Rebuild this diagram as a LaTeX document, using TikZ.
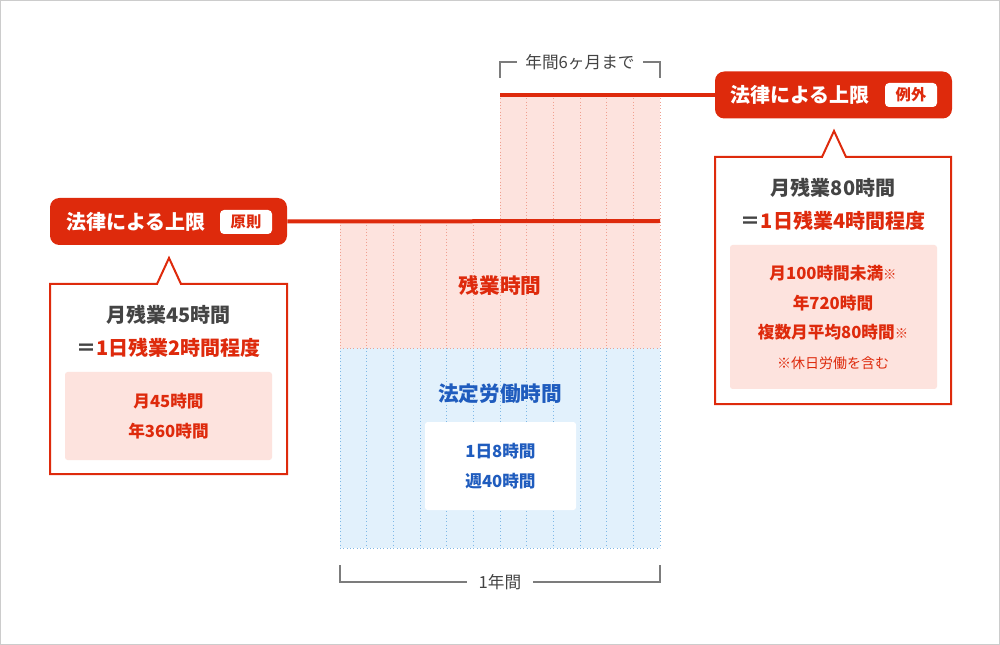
\documentclass[tikz,border=0pt]{standalone}
\usepackage{fontspec}
\setmainfont{Noto Sans CJK JP}
\begin{document}
\begin{tikzpicture}[x=0.75pt,y=-0.75pt,
  red/.style={},
  txt/.style={inner sep=0pt,align=center},
  callout/.style={draw=lred,line width=1.5pt,fill=white},
  pinkbox/.style={fill=lpink,rounded corners=2pt,draw=none},
  grid/.style={draw=#1,dotted,line width=0.5pt}]
\definecolor{lred}{HTML}{DE2A0C}
\definecolor{lpink}{HTML}{FDE3DE}
\definecolor{lblue}{HTML}{E2F1FC}
\definecolor{dblue}{HTML}{1F5CBE}
\definecolor{dgray}{HTML}{444444}
\definecolor{pgrid}{HTML}{F0A090}
\definecolor{bgrid}{HTML}{7FB8E6}
\useasboundingbox (0,0) rectangle (1000,645);
\draw[draw=gray!40,line width=0.8pt] (0.5,0.5) rectangle (999.5,644.5);
% chart
\fill[lblue] (340,348) rectangle (660,548);
\fill[lpink] (340,222) rectangle (660,348);
\fill[lpink] (500,95) rectangle (660,222);
\foreach \i in {0,...,12}{
  \pgfmathsetmacro\xx{340+\i*320/12}
  \draw[grid=bgrid] (\xx,348) -- (\xx,548);
  \draw[grid=pgrid] (\xx,222) -- (\xx,348);
}
\foreach \i in {6,...,12}{
  \pgfmathsetmacro\xx{340+\i*320/12}
  \draw[grid=pgrid] (\xx,95) -- (\xx,222);
}
\draw[grid=bgrid] (340,548) -- (660,548);
\draw[grid=pgrid] (340,348) -- (660,348);
\node[txt,text=lred,font=\bfseries\fontsize{15.5}{18}\selectfont] (zan) at (500,286) {残業時間};
\node[txt,text=dblue,font=\bfseries\fontsize{15.5}{18}\selectfont] (hou) at (500,394) {法定労働時間};
\node[fill=white,rounded corners=2pt,minimum width=151*0.75pt,minimum height=88*0.75pt,text=dblue,align=center,font=\bfseries\fontsize{12.5}{22}\selectfont] (wk) at (500.5,466) {1日8時間\\週40時間};
% brackets
\draw[dgray!70,line width=0.9pt] (500,78) -- (500,62) -- (517,62);
\draw[dgray!70,line width=0.9pt] (643,62) -- (660,62) -- (660,78);
\node[txt,text=dgray,font=\fontsize{12.5}{15}\selectfont] (six) at (580,62) {年間6ヶ月まで};
\draw[dgray!70,line width=0.9pt] (340,565) -- (340,582) -- (467,582);
\draw[dgray!70,line width=0.9pt] (533,582) -- (660,582) -- (660,565);
\node[txt,text=dgray,font=\fontsize{12.5}{15}\selectfont] (one) at (500,582) {1年間};
% limit lines
\coordinate (l1) at (660,221);
\coordinate (l2) at (500,95);
% left labels
\node[fill=lred,rounded corners=7pt,minimum width=237*0.75pt,minimum height=47*0.75pt] (lb) at (168.5,221.5) {};
\draw[lred,line width=3pt] (lb.east) -- (l1);
\node[txt,text=white,font=\bfseries\fontsize{15}{18}\selectfont,anchor=west] (lbt) at (66,222) {法律による上限};
\node[fill=white,rounded corners=3pt,text=lred,font=\bfseries\fontsize{11.5}{14}\selectfont,minimum width=52*0.75pt,minimum height=24*0.75pt,inner sep=0pt] (lbs) at (246,222) {原則};
\draw[callout] (50,284) -- (157,284) -- (169,258) -- (181,284) -- (287,284) -- (287,474) -- (50,474) -- cycle;
\node[txt,text=dgray,font=\bfseries\fontsize{15}{18}\selectfont] (lc1) at (168.5,315) {月残業45時間};
\node[txt,text=dgray,font=\bfseries\fontsize{15}{18}\selectfont] (lc2) at (168.5,348) {＝\textcolor{lred}{1日残業2時間程度}};
\fill[lpink,rounded corners=2pt] (65,372) rectangle (272,460);
\node[txt,text=lred,font=\bfseries\fontsize{12.5}{22}\selectfont] (lc3) at (168.5,416) {月45時間\\年360時間};
% right labels
\node[fill=lred,rounded corners=7pt,minimum width=237*0.75pt,minimum height=47*0.75pt] (rb) at (833.5,95) {};
\draw[lred,line width=3pt] (rb.west) -- (l2);
\node[txt,text=white,font=\bfseries\fontsize{15}{18}\selectfont,anchor=west] (rbt) at (730,95) {法律による上限};
\node[fill=white,rounded corners=3pt,text=lred,font=\bfseries\fontsize{11.5}{14}\selectfont,minimum width=52*0.75pt,minimum height=24*0.75pt,inner sep=0pt] (rbs) at (911,95) {例外};
\draw[callout] (715,157) -- (822,157) -- (834,131) -- (846,157) -- (951,157) -- (951,404) -- (715,404) -- cycle;
\node[txt,text=dgray,font=\bfseries\fontsize{15}{18}\selectfont] (rc1) at (833,188) {月残業80時間};
\node[txt,text=dgray,font=\bfseries\fontsize{15}{18}\selectfont] (rc2) at (833,221) {＝\textcolor{lred}{1日残業4時間程度}};
\fill[lpink,rounded corners=2pt] (730,245) rectangle (937,389);
\node[txt,text=lred,font=\bfseries\fontsize{12.5}{22}\selectfont] (rc3) at (833,303) {月100時間未満{\mdseries\fontsize{10}{12}\selectfont ※}\\年720時間\\複数月平均80時間{\mdseries\fontsize{10}{12}\selectfont ※}};
\node[txt,text=lred,font=\fontsize{10.5}{13}\selectfont] (rc4) at (833,363) {※休日労働を含む};
\end{tikzpicture}
\end{document}
